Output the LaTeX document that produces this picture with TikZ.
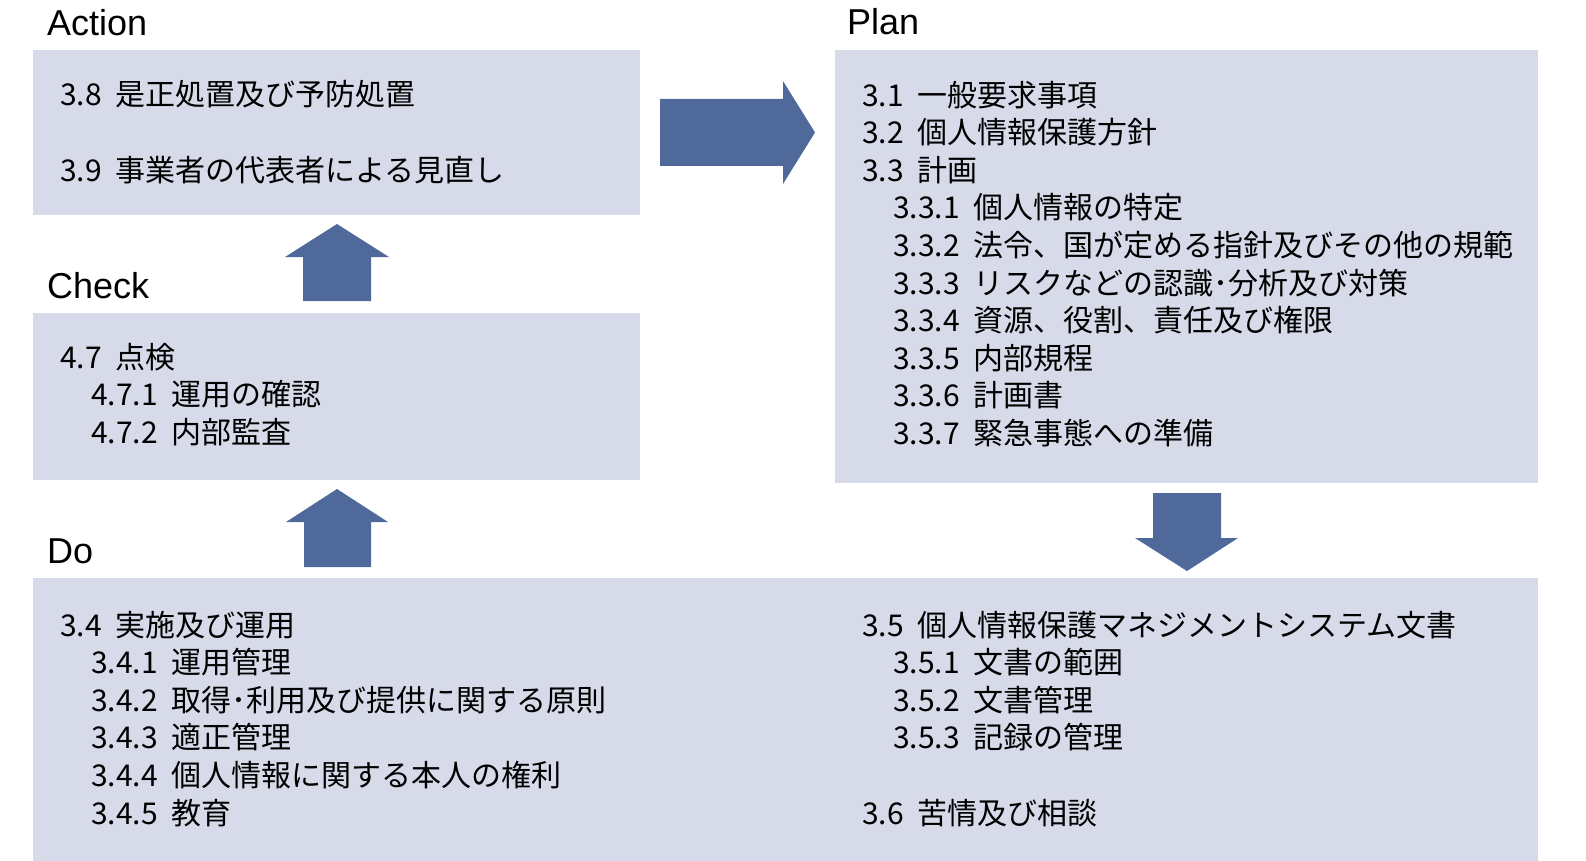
\documentclass[tikz,border=0pt]{standalone}
\usepackage{fontspec}
\newfontfamily\jpfont[WordSpace=2]{Noto Sans CJK JP}
\newfontfamily\titlefont{Liberation Sans}
\definecolor{boxfill}{HTML}{D7DBE9}
\definecolor{arrowblue}{HTML}{4F6A9A}
\def\sub{\hspace*{31pt}}
\tikzset{
	pdcatitle/.style={font=\titlefont\fontsize{36}{36}\selectfont, anchor=base west, inner sep=0pt},
	pdcatext/.style={font=\jpfont\fontsize{30}{37.6}\selectfont, align=left, anchor=base west, inner sep=0pt},
	blockarrow/.style={fill=arrowblue, draw=none}
}

\begin{document}
\begin{tikzpicture}[x=1pt, y=-1pt]
			%%%%% START %%%%%
			\useasboundingbox (0, 0) rectangle (1586, 861);
			
			\fill[boxfill] (33, 50) rectangle (640, 215);
			\fill[boxfill] (835, 50) rectangle (1538, 483);
			\fill[boxfill] (33, 313) rectangle (640, 480);
			\fill[boxfill] (33, 578) rectangle (1538, 861);
			
			\node[pdcatitle] (actiontitle) at (47, 36) {Action};
			\node[pdcatitle] (plantitle) at (847, 35) {Plan};
			\node[pdcatitle] (checktitle) at (47, 298) {Check};
			\node[pdcatitle] (dotitle) at (47, 563) {Do};
			
			% texts sit on the baseline of their last line
			\node[pdcatext] (actiontext) at (60, 181.2) {3.8 是正処置及び予防処置\\[37.6pt]3.9 事業者の代表者による見直し};
			
			\node[pdcatext] (plantext) at (862, 444.4) {3.1 一般要求事項\\3.2 個人情報保護方針\\3.3 計画\\
				\sub 3.3.1 個人情報の特定\\\sub 3.3.2 法令、国が定める指針及びその他の規範\\
				\sub 3.3.3 リスクなどの認識･分析及び対策\\\sub 3.3.4 資源、役割、責任及び権限\\
				\sub 3.3.5 内部規程\\\sub 3.3.6 計画書\\\sub 3.3.7 緊急事態への準備};
			
			\node[pdcatext] (checktext) at (60, 443.2) {4.7 点検\\\sub 4.7.1 運用の確認\\\sub 4.7.2 内部監査};
			
			\node[pdcatext] (dotext) at (60, 824) {3.4 実施及び運用\\\sub 3.4.1 運用管理\\
				\sub 3.4.2 取得･利用及び提供に関する原則\\\sub 3.4.3 適正管理\\
				\sub 3.4.4 個人情報に関する本人の権利\\\sub 3.4.5 教育};
			\node[pdcatext] (doctext) at (862, 824) {3.5 個人情報保護マネジメントシステム文書\\\sub 3.5.1 文書の範囲\\
				\sub 3.5.2 文書管理\\\sub 3.5.3 記録の管理\\[37.6pt]3.6 苦情及び相談};
			
			% block arrows
			\fill[blockarrow] (660, 99) -- (783, 99) -- (783, 81) -- (815, 132.5) -- (783, 184) -- (783, 166) -- (660, 166) -- cycle;
			\fill[blockarrow] (303, 301) -- (303, 257) -- (285, 257) -- (337, 224) -- (389, 257) -- (371, 257) -- (371, 301) -- cycle;
			\fill[blockarrow] (304, 567) -- (304, 522) -- (286, 522) -- (337, 489) -- (388, 522) -- (371, 522) -- (371, 567) -- cycle;
			\fill[blockarrow] (1153, 493) -- (1221, 493) -- (1221, 538) -- (1238, 538) -- (1187, 571) -- (1135, 538) -- (1153, 538) -- cycle;
			
			%%%%% END %%%%%
\end{tikzpicture}
\end{document}
